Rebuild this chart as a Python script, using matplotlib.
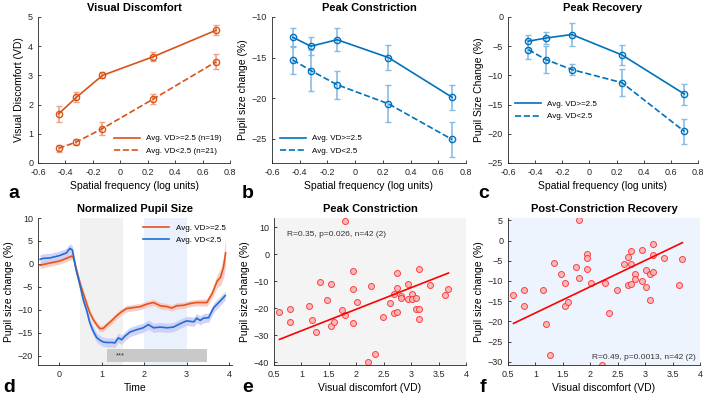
import numpy as np
import matplotlib.pyplot as plt

plt.rcParams['font.family'] = ['Liberation Sans', 'DejaVu Sans']
plt.rcParams['axes.linewidth'] = 0.6
plt.rcParams['xtick.direction'] = 'in'
plt.rcParams['ytick.direction'] = 'in'
plt.rcParams['xtick.major.size'] = 2.5
plt.rcParams['ytick.major.size'] = 2.5
plt.rcParams['xtick.major.width'] = 0.6
plt.rcParams['ytick.major.width'] = 0.6
plt.rcParams['xtick.labelsize'] = 6.5
plt.rcParams['ytick.labelsize'] = 6.5
plt.rcParams['axes.edgecolor'] = '#262626'
plt.rcParams['xtick.color'] = '#262626'
plt.rcParams['ytick.color'] = '#262626'

ORANGE = '#D95319'
ORANGE_LT = '#EFA383'
BLUE = '#0072BD'
BLUE_LT = '#86BCE6'

# spatial frequency (log units)
sf = [-0.45, -0.32, -0.13, 0.24, 0.70]

# panel a - visual discomfort
vd_hi = [1.68, 2.25, 3.0, 3.64, 4.55]
vd_hi_err = [0.27, 0.17, 0.1, 0.15, 0.18]
vd_lo = [0.5, 0.72, 1.18, 2.19, 3.47]
vd_lo_err = [0.13, 0.11, 0.22, 0.17, 0.26]

# panel b - peak constriction
pc_hi = [-12.5, -13.6, -12.8, -15.0, -19.9]
pc_hi_err = [1.2, 1.1, 1.45, 1.55, 1.55]
pc_lo = [-15.3, -16.6, -18.35, -20.7, -25.1]
pc_lo_err = [1.75, 2.5, 1.75, 2.3, 2.15]

# panel c - peak recovery
pr_hi = [-4.15, -3.6, -3.0, -6.5, -13.2]
pr_hi_err = [1.1, 1.0, 1.9, 1.75, 1.8]
pr_lo = [-5.6, -7.3, -9.0, -11.25, -19.6]
pr_lo_err = [1.6, 2.3, 1.0, 2.35, 2.15]

# panel d - normalized pupil size time courses
t_hi = [-0.45, -0.39, -0.22, 0.0, 0.17, 0.29, 0.33, 0.41, 0.49, 0.57, 0.65, 0.72, 0.80, 0.88,
        0.96, 1.04, 1.12, 1.24, 1.35, 1.47, 1.59, 1.75, 1.91, 2.06, 2.22, 2.38, 2.54, 2.65,
        2.77, 2.93, 3.09, 3.24, 3.48, 3.60, 3.72, 3.80, 3.87, 3.92]
p_hi = [-0.3, -0.15, 0.2, 0.6, 1.2, 1.7, 1.5, -1.4, -4.2, -6.5, -8.75, -10.6, -12.1, -13.2,
        -14.1, -14.0, -13.3, -12.3, -11.3, -10.4, -9.7, -9.5, -9.3, -8.75, -8.4, -9.1, -9.3, -9.6,
        -9.1, -9.0, -8.6, -8.4, -8.4, -6.5, -3.75, -2.9, -0.7, 2.4]
e_hi = [0.7, 0.7, 0.7, 0.7, 0.7, 0.7, 0.7, 0.7, 0.7, 0.7, 0.7, 0.7, 0.7, 0.7,
        0.7, 0.7, 0.7, 0.7, 0.7, 0.7, 0.7, 0.7, 0.7, 0.7, 0.7, 0.7, 0.7, 0.7,
        0.7, 0.7, 0.7, 0.7, 0.8, 1.0, 1.4, 1.8, 2.4, 3.2]

t_lo = [-0.45, -0.39, -0.22, 0.0, 0.17, 0.25, 0.31, 0.39, 0.49, 0.57, 0.65, 0.72, 0.80, 0.88,
        0.96, 1.04, 1.12, 1.24, 1.31, 1.39, 1.47, 1.55, 1.67, 1.83, 1.98, 2.10, 2.22, 2.38,
        2.54, 2.69, 2.85, 3.00, 3.17, 3.24, 3.32, 3.40, 3.52, 3.64, 3.80, 3.91]
p_lo = [1.0, 1.2, 1.3, 1.8, 2.4, 3.4, 3.0, -1.0, -4.7, -7.9, -10.2, -12.8, -14.6, -16.0,
        -16.6, -17.0, -17.1, -17.1, -17.2, -16.1, -16.5, -15.7, -14.8, -14.3, -13.9, -13.2, -13.9, -13.75,
        -13.9, -13.75, -13.0, -12.4, -12.6, -11.8, -12.3, -11.8, -11.7, -9.5, -8.0, -6.9]
e_lo = [1.0] * len(t_lo)

# panels e, f - individual subjects
vd_subj = [0.60, 0.80, 0.80, 1.13, 1.20, 1.27, 1.34, 1.47, 1.54, 1.54, 1.60, 1.74, 1.80, 1.80,
           1.94, 1.94, 1.94, 2.01, 2.21, 2.27, 2.34, 2.48, 2.61, 2.68, 2.68, 2.74, 2.74, 2.74,
           2.81, 2.81, 2.95, 2.95, 3.01, 3.01, 3.08, 3.08, 3.15, 3.15, 3.15, 3.35, 3.61, 3.68]
constr = [-21.5, -20.4, -24.9, -19.1, -24.3, -28.9, -10.4, -16.9, -11.1, -26.5, -24.9, -20.6, -22.5, 12.3,
          -6.2, -12.7, -25.3, -17.7, -40.0, -11.6, -36.9, -23.1, -18.1, -14.6, -21.7, -6.9, -12.5, -21.2,
          -15.3, -16.2, -10.9, -16.4, -14.8, -16.4, -16.2, -20.2, -5.4, -20.2, -23.9, -11.4, -15.2, -12.7]
recov = [-13.5, -12.2, -16.1, -12.2, -20.6, -28.2, -5.6, -8.3, -10.4, -16.2, -15.1, -6.6, -9.3, 5.1,
         -3.3, -4.3, -7.0, -10.4, -30.8, -10.4, -18.0, -12.3, -5.9, -4.1, -11.0, -2.5, -5.7, -10.7,
         -8.2, -9.4, -2.3, -10.0, -7.3, -11.5, -8.2, -14.7, -0.8, -3.6, -7.8, -4.4, -10.9, -4.5]

# regression lines as drawn in the figure (end points)
fit_x = [0.6, 3.68]
fit_constr = [-31.5, -6.9]
fit_recov = [-20.5, -0.5]

fig = plt.figure(figsize=(7.08, 3.99), dpi=100)
W, H = 708.0, 399.0


def add_ax(x0, y0, x1, y1):
    ax = fig.add_axes([x0 / W, 1 - y1 / H, (x1 - x0) / W, (y1 - y0) / H])
    ax.spines['top'].set_visible(False)
    ax.spines['right'].set_visible(False)
    return ax


def line_panel(ax, hi, hi_err, lo, lo_err, col, col_lt):
    ax.errorbar(sf, hi, yerr=hi_err, fmt='none', ecolor=col_lt, elinewidth=1.2, capsize=2.2, capthick=1.0)
    ax.errorbar(sf, lo, yerr=lo_err, fmt='none', ecolor=col_lt, elinewidth=1.2, capsize=2.2, capthick=1.0)
    l1, = ax.plot(sf, hi, '-', color=col, lw=1.2)
    l2, = ax.plot(sf, lo, '--', color=col, lw=1.2)
    ax.plot(sf, hi, 'o', mfc='none', mec=col, ms=4.5, mew=1.0)
    ax.plot(sf, lo, 'o', mfc='none', mec=col, ms=4.5, mew=1.0)
    ax.set_xlim(-0.6, 0.8)
    ax.set_xticks(np.arange(-0.6, 0.81, 0.2))
    ax.set_xticklabels(['-0.6', '-0.4', '-0.2', '0', '0.2', '0.4', '0.6', '0.8'])
    ax.set_xlabel('Spatial frequency (log units)', fontsize=7.5, labelpad=3)
    return l1, l2


# a
ax = add_ax(38, 17, 230, 163)
l1, l2 = line_panel(ax, vd_hi, vd_hi_err, vd_lo, vd_lo_err, ORANGE, ORANGE_LT)
ax.set_ylim(0, 5)
ax.set_yticks([0, 1, 2, 3, 4, 5])
ax.set_ylabel('Visual Discomfort (VD)', fontsize=7.5, labelpad=3)
ax.set_title('Visual Discomfort', fontsize=8, fontweight='bold', pad=4)
ax.legend([l1, l2], ['Avg. VD>=2.5 (n=19)', 'Avg. VD<2.5 (n=21)'], loc='lower right', frameon=False,
          fontsize=5.8, handlelength=3.2, borderaxespad=0.6, labelspacing=0.6)

# b
ax = add_ax(272, 17, 466, 163)
l1, l2 = line_panel(ax, pc_hi, pc_hi_err, pc_lo, pc_lo_err, BLUE, BLUE_LT)
ax.set_ylim(-28, -10)
ax.set_yticks([-25, -20, -15, -10])
ax.set_ylabel('Pupil size change (%)', fontsize=7.5, labelpad=3)
ax.set_title('Peak Constriction', fontsize=8, fontweight='bold', pad=4)
ax.legend([l1, l2], ['Avg. VD>=2.5', 'Avg. VD<2.5'], loc='lower left', frameon=False,
          fontsize=5.8, handlelength=3.2, borderaxespad=0.6, labelspacing=0.6)

# c
ax = add_ax(508, 17, 698, 163)
l1, l2 = line_panel(ax, pr_hi, pr_hi_err, pr_lo, pr_lo_err, BLUE, BLUE_LT)
ax.set_ylim(-25, 0)
ax.set_yticks([-25, -20, -15, -10, -5, 0])
ax.set_ylabel('Pupil Size Change (%)', fontsize=7.5, labelpad=3)
ax.set_title('Peak Recovery', fontsize=8, fontweight='bold', pad=4)
ax.legend([l1, l2], ['Avg. VD>=2.5', 'Avg. VD<2.5'], loc='center left', bbox_to_anchor=(0.0, 0.36),
          frameon=False, fontsize=5.8, handlelength=3.2, labelspacing=0.6)

# d
ax = add_ax(38, 218, 232, 365)
ax.axvspan(0.5, 1.5, color='#f1f1f1', lw=0, zorder=0)
ax.axvspan(2.0, 3.0, color='#eaf1fc', lw=0, zorder=0)
ax.fill_between(t_hi, np.array(p_hi) - np.array(e_hi), np.array(p_hi) + np.array(e_hi),
                color='#f6c4b8', alpha=0.8, lw=0)
ax.fill_between(t_lo, np.array(p_lo) - np.array(e_lo), np.array(p_lo) + np.array(e_lo),
                color='#c7c8f5', alpha=0.8, lw=0)
h1, = ax.plot(t_hi, p_hi, color='#E8521C', lw=1.2)
h2, = ax.plot(t_lo, p_lo, color='#1F6ED4', lw=1.2)
ax.fill_between([1.12, 3.48], -21.4, -18.5, color='#c9c9c9', lw=0)
ax.text(1.43, -19.95, '***', fontsize=5.5, ha='center', va='center', color='#333333')
ax.set_xlim(-0.5, 4.07)
ax.set_ylim(-22, 10)
ax.set_xticks([0, 1, 2, 3, 4])
ax.set_yticks([-20, -15, -10, -5, 0, 5, 10])
ax.set_xlabel('Time', fontsize=7.5, labelpad=3)
ax.set_ylabel('Pupil size change (%)', fontsize=7.5, labelpad=3)
ax.set_title('Normalized Pupil Size', fontsize=8, fontweight='bold', pad=4)
ax.legend([h1, h2], ['Avg. VD>=2.5', 'Avg. VD<2.5'], loc='upper right', frameon=False,
          fontsize=5.8, handlelength=3.2, borderaxespad=0.4, labelspacing=0.5)


def scatter_panel(ax, y, fit_y, bg):
    ax.set_facecolor(bg)
    ax.plot(vd_subj, y, 'o', mfc='#f8b4b4', mec='#ff3030', ms=4.3, mew=0.7, alpha=0.9)
    ax.plot(fit_x, fit_y, color='#ff0000', lw=1.2)
    ax.set_xlim(0.5, 4)
    ax.set_xticks([0.5, 1, 1.5, 2, 2.5, 3, 3.5, 4])
    ax.set_xticklabels(['0.5', '1', '1.5', '2', '2.5', '3', '3.5', '4'])
    ax.set_xlabel('Visual discomfort (VD)', fontsize=7.5, labelpad=3)
    ax.set_ylabel('Pupil size change (%)', fontsize=7.5, labelpad=3)


# e
ax = add_ax(274, 218, 466, 365)
scatter_panel(ax, constr, fit_constr, '#f4f4f4')
ax.set_ylim(-41, 13.5)
ax.set_yticks([-40, -30, -20, -10, 0, 10])
ax.set_title('Peak Constriction', fontsize=8, fontweight='bold', pad=4)
ax.text(0.07, 0.88, 'R=0.35, p=0.026, n=42 (2)', transform=ax.transAxes, fontsize=6, color='#333333')

# f
ax = add_ax(508, 218, 700, 365)
scatter_panel(ax, recov, fit_recov, '#eef4fd')
ax.set_ylim(-30.8, 5.6)
ax.set_yticks([-30, -25, -20, -15, -10, -5, 0, 5])
ax.set_title('Post-Constriction Recovery', fontsize=8, fontweight='bold', pad=4)
ax.text(0.98, 0.04, 'R=0.49, p=0.0013, n=42 (2)', transform=ax.transAxes, fontsize=6,
        ha='right', color='#333333')

# panel letters
for lab, x, y in [('a', 8, 198), ('b', 242, 198), ('c', 478, 198),
                  ('d', 3, 392), ('e', 242, 392), ('f', 480, 392)]:
    fig.text(x / W, 1 - y / H, lab, fontsize=14, fontweight='bold')

fig.savefig('out.png', dpi=100)
